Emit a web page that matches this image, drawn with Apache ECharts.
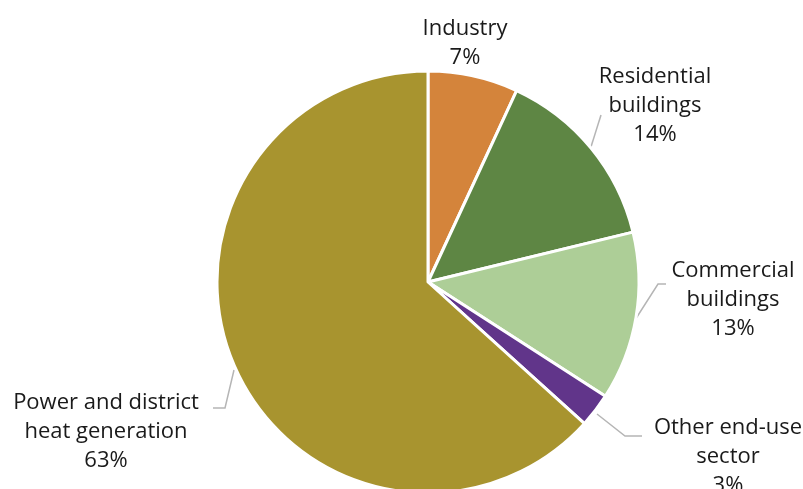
<!DOCTYPE html>
<html><head><meta charset="utf-8">
<script src="https://cdn.jsdelivr.net/npm/echarts@6/dist/echarts.min.js"></script>
<style>html,body{margin:0;padding:0;background:#fff}#c{width:803px;height:489px}</style>
</head><body><div id="c"></div>
<script>
const categories = ["Industry", "Residential buildings", "Commercial buildings", "Other end-use sector", "Power and district heat generation"];
const labelNames = ["Industry", "Residential\nbuildings", "Commercial\nbuildings", "Other end-use\nsector", "Power and district\nheat generation"];
const shares = [6.9, 14.3, 12.9, 2.6, 63.3];
const colors = ["#D4843B", "#5E8644", "#ADCE97", "#61358A", "#A8942F"];

const labelPos = [
  {x: 465, y: 43, pts: null},
  {x: 655, y: 106, pts: [[601, 115], [601, 115], [590, 150]]},
  {x: 733, y: 300, pts: [[666, 284], [658, 284], [635, 320]]},
  {x: 728, y: 457, pts: [[642, 436], [625, 436], [597, 414]]},
  {x: 106, y: 432, pts: [[213, 408], [225, 408], [234, 370]]}
];

const chart = echarts.init(document.getElementById('c'), null, {renderer: 'canvas'});
chart.setOption({
  animation: false,
  series: [{
    type: 'pie',
    center: [428, 282],
    radius: [0, 211],
    startAngle: 90,
    clockwise: true,
    itemStyle: {borderColor: '#fff', borderWidth: 3},
    label: {
      show: true,
      position: 'outside',
      fontFamily: 'Open Sans',
      fontSize: 22,
      lineHeight: 29,
      color: '#1a1a1a',
      align: 'center',
      overflow: 'none',
      formatter: p => labelNames[p.dataIndex] + '\n' + Math.round(p.percent) + '%'
    },
    labelLine: {show: true, lineStyle: {color: '#b5b5b5', width: 1.5}},
    labelLayout: function (params) {
      const lp = labelPos[params.dataIndex];
      const r = {x: lp.x, y: lp.y, align: 'center', verticalAlign: 'middle', width: 200};
      if (lp.pts) r.labelLinePoints = lp.pts;
      return r;
    },
    data: categories.map((c, i) => ({
      name: c,
      value: shares[i],
      itemStyle: {color: colors[i]},
      labelLine: {show: i !== 0}
    }))
  }]
});
</script></body></html>
